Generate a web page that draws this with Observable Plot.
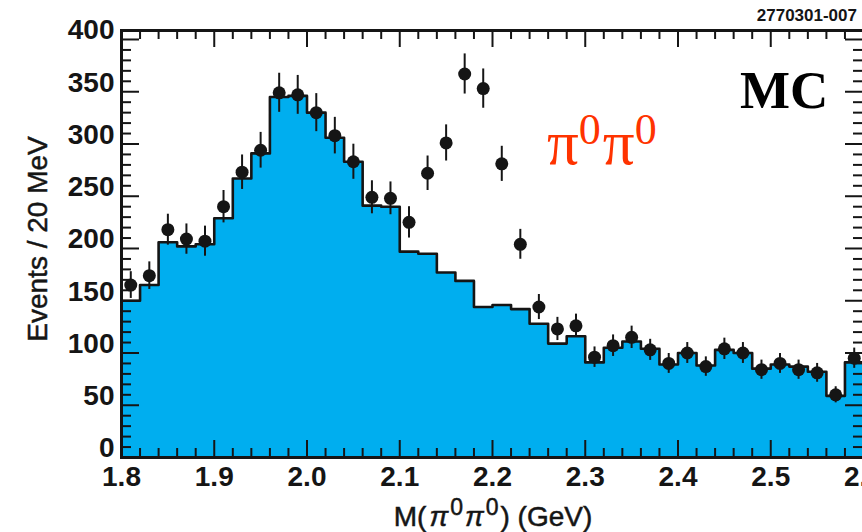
<!DOCTYPE html>
<html><head><meta charset="utf-8">
<script src="https://cdn.jsdelivr.net/npm/d3@7"></script>
<script src="https://cdn.jsdelivr.net/npm/@observablehq/plot@0.6"></script>
<style>
html,body{margin:0;padding:0;background:#fff;overflow:hidden;width:862px;height:532px}
#chart{position:relative;width:880px;height:532px}
svg{display:block}
</style></head><body><div id="chart"></div>
<script>
// bin lower edges (GeV), 20 MeV bins
const binLow = [1.80,1.82,1.84,1.86,1.88,1.90,1.92,1.94,1.96,1.98,
                2.00,2.02,2.04,2.06,2.08,2.10,2.12,2.14,2.16,2.18,
                2.20,2.22,2.24,2.26,2.28,2.30,2.32,2.34,2.36,2.38,
                2.40,2.42,2.44,2.46,2.48,2.50,2.52,2.54,2.56,2.58];
const binHigh = 2.60;
// bin centres for the points
const binCenter = [1.81,1.83,1.85,1.87,1.89,1.91,1.93,1.95,1.97,1.99,
                   2.01,2.03,2.05,2.07,2.09,2.11,2.13,2.15,2.17,2.19,
                   2.21,2.23,2.25,2.27,2.29,2.31,2.33,2.35,2.37,2.39,
                   2.41,2.43,2.45,2.47,2.49,2.51,2.53,2.55,2.57,2.59];
// MC histogram (filled)
const mcCounts = [150,165,206,202,204,229,267,291,345,346,
                  330,306,283,241,240,197,195,177,169,144,
                  146,142,128,109,116,91,105,111,104,89,
                  100,88,103,100,85,89,87,82,59,91];
// points with error bars
const dataCounts = [165,174,218,209,207,240,273,294,349,347,
                    330,308,283,249,248,225,272,301,367,353,
                    281,204,144,123,126,96,107,115,103,90,
                    100,87,104,100,84,90,84,81,60,95];
const dataErrors = [12.8,13.2,14.8,14.5,14.4,15.5,16.5,17.1,18.7,18.6,
                    18.2,17.5,16.8,15.8,15.7,15.0,16.5,17.3,19.2,18.8,
                    16.8,14.3,12.0,11.1,11.2,9.8,10.3,10.7,10.1,9.5,
                    10.0,9.3,10.2,10.0,9.2,9.5,9.2,9.0,7.7,9.7];
const xMajor = [1.8,1.9,2.0,2.1,2.2,2.3,2.4,2.5,2.6];
const xMinor = [1.82,1.84,1.86,1.88,1.92,1.94,1.96,1.98,2.02,2.04,2.06,2.08,
                2.12,2.14,2.16,2.18,2.22,2.24,2.26,2.28,2.32,2.34,2.36,2.38,
                2.42,2.44,2.46,2.48,2.52,2.54,2.56,2.58];
const yMajor = [0,50,100,150,200,250,300,350,400];
const yMinor = [10,20,30,40,60,70,80,90,110,120,130,140,160,170,180,190,
                210,220,230,240,260,270,280,290,310,320,330,340,360,370,380,390];

const hist = binLow.map((x, i) => ({x, y: mcCounts[i]}));
hist.push({x: binHigh, y: mcCounts[mcCounts.length - 1]});
const pts = binCenter.map((x, i) => ({x, y: dataCounts[i], lo: dataCounts[i] - dataErrors[i], hi: dataCounts[i] + dataErrors[i]}));

const W = 880, H = 532, mT = 30, mB = 75, mL = 121, mR = 17;
const plotH = H - mT - mB, plotW = W - mL - mR;
const ink = "#151515";

const svg = Plot.plot({
  width: W, height: H,
  marginTop: mT, marginBottom: mB, marginLeft: mL, marginRight: mR,
  x: {domain: [1.8, 2.6]},
  y: {domain: [0, 408.6]},
  style: {fontFamily: "'Liberation Sans', Arial, sans-serif", background: "white", color: ink},
  marks: [
    Plot.areaY(hist, {x: "x", y: "y", curve: "step-after", fill: "#00AEEF"}),
    Plot.lineY(hist, {x: "x", y: "y", curve: "step-after", stroke: ink, strokeWidth: 2.6}),
    Plot.ruleX(pts, {x: "x", y1: "lo", y2: "hi", stroke: ink, strokeWidth: 2}),
    Plot.dot(pts, {x: "x", y: "y", r: 6.5, fill: ink, stroke: "none"}),
    // inward ticks: bottom / top
    Plot.ruleX(xMajor, {insetTop: plotH - 17, stroke: ink, strokeWidth: 2}),
    Plot.ruleX(xMinor, {insetTop: plotH - 9, stroke: ink, strokeWidth: 2}),
    Plot.ruleX(xMajor, {insetBottom: plotH - 17, stroke: ink, strokeWidth: 2}),
    Plot.ruleX(xMinor, {insetBottom: plotH - 9, stroke: ink, strokeWidth: 2}),
    // inward ticks: left / right
    Plot.ruleY(yMajor, {insetRight: plotW - 18, stroke: ink, strokeWidth: 2}),
    Plot.ruleY(yMinor, {insetRight: plotW - 10, stroke: ink, strokeWidth: 2}),
    Plot.ruleY(yMajor, {insetLeft: plotW - 18, stroke: ink, strokeWidth: 2}),
    Plot.ruleY(yMinor, {insetLeft: plotW - 10, stroke: ink, strokeWidth: 2}),
    Plot.axisX({ticks: xMajor, tickSize: 0, tickPadding: 9, tickFormat: d3.format(".1f"),
                fontSize: 28, fontWeight: "bold", label: null}),
    Plot.axisY({ticks: yMajor, tickSize: 0, tickPadding: 7, dy: -9,
                fontSize: 28, fontWeight: "bold", label: null}),
    Plot.frame({stroke: ink, strokeWidth: 3})
  ]
});
document.getElementById("chart").appendChild(svg);

const s = d3.select(svg);
const sans = "'Liberation Sans', Arial, sans-serif";
const serif = "'Liberation Serif', 'Times New Roman', serif";
// y axis label
s.append("text")
  .attr("transform", "translate(47,239) rotate(-90)")
  .attr("text-anchor", "middle")
  .attr("font-family", sans)
  .attr("font-size", 28).attr("fill", ink)
  .attr("stroke", ink).attr("stroke-width", 0.5)
  .text("Events / 20 MeV");
// x axis label
const xl = s.append("text")
  .attr("x", 493).attr("y", 526)
  .attr("text-anchor", "middle")
  .attr("font-family", sans)
  .attr("font-size", 28).attr("fill", ink)
  .attr("stroke", ink).attr("stroke-width", 0.5);
xl.append("tspan").text("M(");
xl.append("tspan").attr("font-style", "italic").attr("dx", 3).text("\u03C0");
xl.append("tspan").attr("font-size", 23).attr("dy", -11).attr("dx", 2).text("0");
xl.append("tspan").attr("font-style", "italic").attr("dy", 11).attr("dx", 2).text("\u03C0");
xl.append("tspan").attr("font-size", 23).attr("dy", -11).attr("dx", 2).text("0");
xl.append("tspan").attr("dy", 11).attr("dx", 2).text(") (GeV)");
// MC tag
s.append("text")
  .attr("x", 740).attr("y", 108)
  .attr("text-anchor", "start")
  .attr("font-family", serif)
  .attr("font-weight", "bold").attr("font-size", 53).attr("fill", "#000")
  .text("MC");
// pi0 pi0 label
const pl = s.append("text")
  .attr("x", 547).attr("y", 164)
  .attr("text-anchor", "start")
  .attr("font-family", serif)
  .attr("font-size", 63).attr("fill", "#ff3300");
pl.append("tspan").text("\u03C0");
pl.append("tspan").attr("font-size", 44).attr("dy", -20).text("0");
pl.append("tspan").attr("dy", 20).attr("dx", 2).text("\u03C0");
pl.append("tspan").attr("font-size", 44).attr("dy", -20).text("0");
// figure code
s.append("text")
  .attr("x", 857).attr("y", 21)
  .attr("text-anchor", "end")
  .attr("font-family", sans)
  .attr("font-weight", "bold").attr("font-size", 17).attr("fill", ink)
  .text("2770301-007");
</script>
</body></html>
